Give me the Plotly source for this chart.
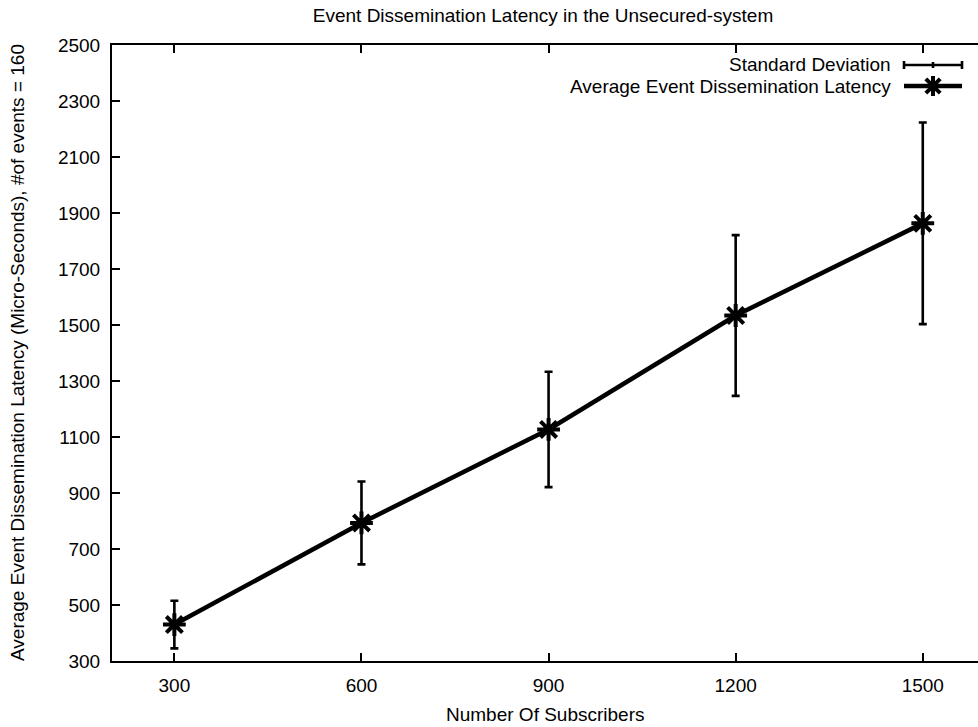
import plotly.graph_objects as go

# Measured dissemination latency per subscriber count
subscribers = [300, 600, 900, 1200, 1500]
avg_latency = [430, 793, 1127, 1534, 1863]
std_dev = [85, 148, 206, 287, 360]

x_ticks = [300, 600, 900, 1200, 1500]
y_ticks = [300, 500, 700, 900, 1100, 1300, 1500, 1700, 1900, 2100, 2300, 2500]

W, H = 978, 727
L, R, T, B = 112, 0, 45, 66
FONT = "Liberation Sans, Arial, sans-serif"
FS = 19

fig = go.Figure()

# Standard deviation error bars (drawn beneath the average line)
fig.add_trace(go.Scatter(
    x=subscribers, y=avg_latency, mode="markers",
    marker=dict(size=1, opacity=0),
    error_y=dict(type="data", array=std_dev, visible=True,
                 color="black", thickness=2.6, width=4),
    showlegend=False, hoverinfo="skip",
))

# Average latency line with asterisk markers
fig.add_trace(go.Scatter(
    x=subscribers, y=avg_latency, mode="lines+markers",
    line=dict(color="black", width=4.5),
    marker=dict(symbol="asterisk-open", size=19,
                line=dict(color="black", width=4)),
    showlegend=False,
))

plot_w = W - L - R
plot_h = H - T - B


def px(xp):
    return (xp - L) / plot_w


def py(yp):
    return (H - B - yp) / plot_h


shapes = []
annotations = []

# Key: text right-aligned, sample to its right
key_x0, key_x1 = 904, 962
key_mid = (key_x0 + key_x1) / 2
row1, row2 = 65, 86

annotations.append(dict(
    x=px(893), y=py(row1), xref="paper", yref="paper",
    text="Standard Deviation", showarrow=False,
    xanchor="right", yanchor="middle", font=dict(family=FONT, size=FS, color="black"),
))
annotations.append(dict(
    x=px(893), y=py(row2), xref="paper", yref="paper",
    text="Average Event Dissemination Latency", showarrow=False,
    xanchor="right", yanchor="middle", font=dict(family=FONT, size=FS, color="black"),
))

line_sd = dict(color="black", width=2.6)
shapes.append(dict(type="line", xref="paper", yref="paper",
                   x0=px(key_x0), x1=px(key_x1), y0=py(row1), y1=py(row1), line=line_sd))
for kx, half in ((key_x0, 4), (key_x1, 4), (key_mid, 3)):
    shapes.append(dict(type="line", xref="paper", yref="paper",
                       x0=px(kx), x1=px(kx), y0=py(row1 - half), y1=py(row1 + half), line=line_sd))

shapes.append(dict(type="line", xref="paper", yref="paper",
                   x0=px(key_x0), x1=px(key_x1), y0=py(row2), y1=py(row2),
                   line=dict(color="black", width=4.5)))
# asterisk in the key
r = 10
d = r * 0.72
line_st = dict(color="black", width=4)
for (dx0, dy0, dx1, dy1) in ((-r, 0, r, 0), (0, -r, 0, r), (-d, -d, d, d), (-d, d, d, -d)):
    shapes.append(dict(type="line", xref="paper", yref="paper",
                       x0=px(key_mid + dx0), y0=py(row2 + dy0),
                       x1=px(key_mid + dx1), y1=py(row2 + dy1), line=line_st))

# Axis titles
annotations.append(dict(
    x=px(545), y=-(714 - (H - B)) / plot_h, xref="paper", yref="paper",
    text="Number Of Subscribers", showarrow=False,
    xanchor="center", yanchor="middle", font=dict(family=FONT, size=FS, color="black"),
))
annotations.append(dict(
    x=-(L - 17) / plot_w, y=0.5, xref="paper", yref="paper",
    text="Average Event Dissemination Latency (Micro-Seconds), #of events = 160",
    showarrow=False, textangle=-90,
    xanchor="center", yanchor="middle", font=dict(family=FONT, size=FS, color="black"),
))

x_right = 200 + plot_w * 300 / 187.1

fig.update_layout(
    width=W, height=H,
    margin=dict(l=L, r=R, t=T, b=B),
    paper_bgcolor="white", plot_bgcolor="white",
    font=dict(family=FONT, size=FS, color="black"),
    title=dict(text="Event Dissemination Latency in the Unsecured-system",
               x=px(543), xref="paper", xanchor="center",
               y=1 - 15 / H, yref="container", yanchor="middle",
               font=dict(family=FONT, size=FS, color="black")),
    xaxis=dict(range=[200, x_right], tickvals=x_ticks, ticktext=[str(v) for v in x_ticks],
               ticks="inside", ticklen=8, tickwidth=1.5, tickcolor="black",
               showline=True, linecolor="black", linewidth=2, mirror="ticks",
               showgrid=False, zeroline=False, ticklabelstandoff=6,
               tickfont=dict(family=FONT, size=FS, color="black")),
    yaxis=dict(range=[300, 2500], tickvals=y_ticks, ticktext=[str(v) for v in y_ticks],
               ticks="inside", ticklen=8, tickwidth=1.5, tickcolor="black",
               showline=True, linecolor="black", linewidth=2, mirror=False,
               showgrid=False, zeroline=False, ticklabelstandoff=6,
               tickfont=dict(family=FONT, size=FS, color="black")),
    yaxis2=dict(range=[300, 2500], tickvals=y_ticks, overlaying="y", side="right",
                ticks="inside", ticklen=3, tickwidth=1.5, tickcolor="black",
                showticklabels=False, showline=False, showgrid=False, zeroline=False),
    shapes=shapes,
    annotations=annotations,
    showlegend=False,
)

fig.write_html("out.html")
